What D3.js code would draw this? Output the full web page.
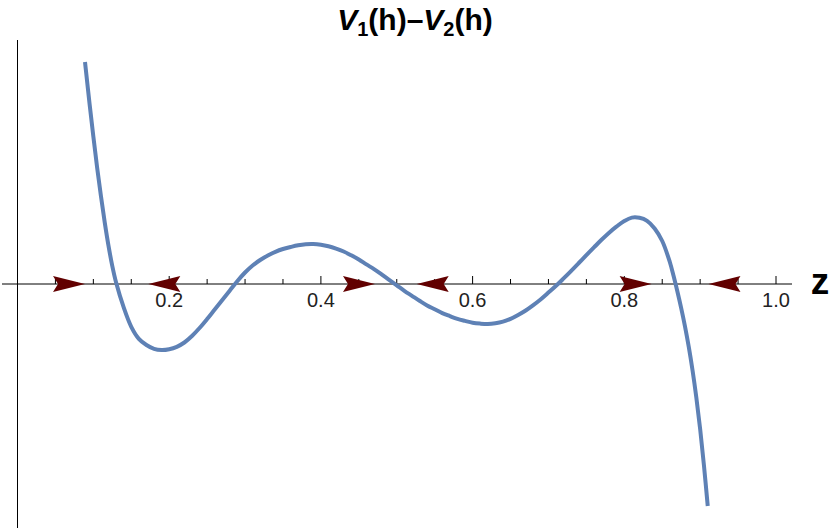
<!DOCTYPE html>
<html>
<head>
<meta charset="utf-8">
<script src="https://cdn.jsdelivr.net/npm/d3@7"></script>
<style>
  html, body { margin: 0; padding: 0; background: #fff; }
  svg { display: block; }
</style>
</head>
<body>
<svg id="chart" width="830" height="531"></svg>
<script>
// ---- data ----
const curveX = [0.089, 0.09, 0.095, 0.10, 0.105, 0.11, 0.115, 0.12, 0.125, 0.13,
                0.14, 0.15, 0.16, 0.17, 0.18, 0.19, 0.20, 0.21, 0.22, 0.23,
                0.24, 0.25, 0.26, 0.27, 0.28, 0.29, 0.30, 0.31, 0.32, 0.33,
                0.34, 0.35, 0.36, 0.37, 0.38, 0.39, 0.40, 0.41, 0.42, 0.43,
                0.44, 0.45, 0.46, 0.47, 0.48, 0.49, 0.50, 0.51, 0.52, 0.53,
                0.54, 0.55, 0.56, 0.57, 0.58, 0.59, 0.60, 0.61, 0.62, 0.63,
                0.64, 0.65, 0.66, 0.67, 0.68, 0.69, 0.70, 0.71, 0.72, 0.73,
                0.74, 0.75, 0.76, 0.77, 0.78, 0.79, 0.80, 0.81, 0.82, 0.83,
                0.84, 0.85, 0.86, 0.865, 0.87, 0.875, 0.88, 0.885, 0.89, 0.895,
                0.90, 0.905, 0.91];
const curveY = [2.22, 2.15, 1.803, 1.474, 1.162, 0.88, 0.616, 0.381, 0.179, 0.015,
                -0.234, -0.428, -0.548, -0.61, -0.648, -0.66, -0.652, -0.628, -0.585, -0.52,
                -0.44, -0.35, -0.255, -0.16, -0.065, 0.03, 0.115, 0.185, 0.24, 0.285,
                0.322, 0.35, 0.37, 0.387, 0.397, 0.399, 0.392, 0.377, 0.354, 0.325,
                0.287, 0.245, 0.196, 0.149, 0.096, 0.041, -0.013, -0.068, -0.118, -0.168,
                -0.215, -0.253, -0.291, -0.321, -0.349, -0.369, -0.387, -0.396, -0.40, -0.393,
                -0.377, -0.349, -0.31, -0.265, -0.211, -0.152, -0.086, -0.018, 0.056, 0.132,
                0.21, 0.289, 0.366, 0.442, 0.513, 0.576, 0.63, 0.664, 0.662, 0.632,
                0.556, 0.43, 0.22, 0.08, -0.075, -0.241, -0.423, -0.629, -0.865, -1.137,
                -1.451, -1.814, -2.22];
const arrowTipX = [0.089, 0.1725, 0.4713, 0.5263, 0.836, 0.911];
const arrowDir  = [1, -1, 1, -1, 1, -1];
const tickValues = [0.05, 0.1, 0.15, 0.2, 0.25, 0.3, 0.35, 0.4, 0.45, 0.5,
                    0.55, 0.6, 0.65, 0.7, 0.75, 0.8, 0.85, 0.9, 0.95, 1.0];
const tickLabels = [0.2, 0.4, 0.6, 0.8, 1.0];

// ---- layout ----
const svg = d3.select("#chart");
const x = d3.scaleLinear().domain([0, 1]).range([17.5, 776]);
const y = d3.scaleLinear().domain([-2.44, 2.44]).range([528, 40]);
const y0 = y(0);
const font = "'Liberation Sans', Arial, Helvetica, sans-serif";

// y axis line
svg.append("line")
  .attr("x1", x(0)).attr("x2", x(0))
  .attr("y1", y(2.44)).attr("y2", y(-2.44))
  .attr("stroke", "#000").attr("stroke-width", 1);

// x axis line
svg.append("line")
  .attr("x1", 2).attr("x2", 792)
  .attr("y1", y0).attr("y2", y0)
  .attr("stroke", "#000").attr("stroke-width", 1);

// ticks
const isMajor = v => tickLabels.some(t => Math.abs(t - v) < 1e-9);
svg.append("g").selectAll("line").data(tickValues).join("line")
  .attr("x1", d => x(d)).attr("x2", d => x(d))
  .attr("y1", y0).attr("y2", d => y0 - (isMajor(d) ? 8 : 5))
  .attr("stroke", "#000").attr("stroke-width", 1);

svg.append("g").selectAll("text").data(tickLabels).join("text")
  .attr("x", d => x(d)).attr("y", y0 + 23)
  .attr("text-anchor", "middle")
  .attr("font-family", font)
  .attr("font-size", 20)
  .attr("fill", "#222")
  .text(d => d3.format(".1f")(d));

// axis label z
svg.append("text")
  .attr("x", 820).attr("y", y0 + 10)
  .attr("text-anchor", "middle")
  .attr("font-family", font)
  .attr("font-weight", "bold")
  .attr("font-size", 37)
  .text("z");

// arrows
const arrowPath = "M0,0 L-32,-8 L-27,0 L-32,8 Z";
svg.append("g").selectAll("path").data(arrowTipX.map((v, i) => ({v, d: arrowDir[i]}))).join("path")
  .attr("d", arrowPath)
  .attr("transform", o => `translate(${x(o.v)},${y0}) scale(${o.d},1)`)
  .attr("fill", "#620000");

// curve
const pts = curveX.map((v, i) => [v, curveY[i]]);
const line = d3.line().x(d => x(d[0])).y(d => y(d[1])).curve(d3.curveCatmullRom.alpha(0.5));
svg.append("path")
  .attr("d", line(pts))
  .attr("fill", "none")
  .attr("stroke", "#5e81b5")
  .attr("stroke-width", 4)
  .attr("stroke-linejoin", "round");

// title
const title = svg.append("text")
  .attr("x", 415).attr("y", 30)
  .attr("text-anchor", "middle")
  .attr("font-family", font)
  .attr("font-weight", "bold")
  .attr("font-size", 30);
title.append("tspan").attr("font-style", "italic").text("V");
title.append("tspan").attr("font-size", 20).attr("dy", 6).text("1");
title.append("tspan").attr("dy", -6).text("(h)\u2013");
title.append("tspan").attr("font-style", "italic").text("V");
title.append("tspan").attr("font-size", 20).attr("dy", 6).text("2");
title.append("tspan").attr("dy", -6).text("(h)");
</script>
</body>
</html>
